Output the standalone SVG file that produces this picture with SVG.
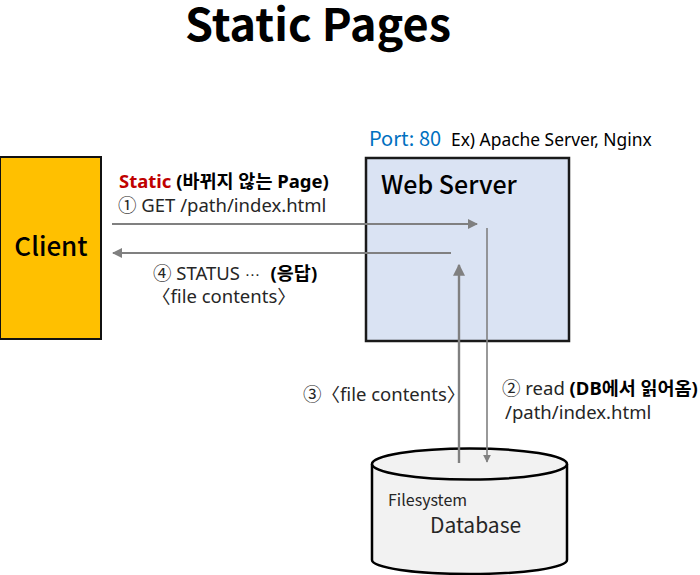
<svg xmlns="http://www.w3.org/2000/svg" width="700" height="575" viewBox="0 0 700 575">
<defs>
<style>
text{font-family:"Noto Sans CJK KR","Liberation Sans",sans-serif;fill:#000}
.t{font-size:45px;font-weight:700}
.lbl{font-family:"Noto Sans","Noto Sans CJK KR",sans-serif;font-size:18.5px;font-weight:400;fill:#262626}
.db{font-weight:400;fill:#262626}
.b{font-weight:700;fill:#000}
.dots{font-family:"DejaVu Sans",sans-serif;font-size:15px}
.conn{stroke:#808080;stroke-width:2;fill:none}
</style>
<marker id="ah" viewBox="0 0 10 10" refX="9" refY="5" markerWidth="5" markerHeight="5" orient="auto" markerUnits="strokeWidth">
<path d="M0,0 L10,5 L0,10 z" fill="#808080"/>
</marker>
</defs>
<rect width="700" height="575" fill="#fff"/>
<text class="t" x="318" y="41" text-anchor="middle">Static Pages</text>

<g id="client">
<rect x="0" y="157" width="101" height="182" fill="#FFC000" stroke="#111" stroke-width="2"/>
<text x="51" y="256" text-anchor="middle" font-size="26" font-weight="500">Client</text>
</g>

<g id="webserver">
<text x="369" y="146" font-size="20" style="fill:#0070C0">Port: 80</text>
<text x="451" y="146" class="lbl" style="font-size:17.4px;fill:#000">Ex) Apache Server, Nginx</text>
<rect x="366" y="158" width="203" height="183" fill="#DAE3F3" stroke="#1a1a1a" stroke-width="2.5"/>
<text x="381" y="194" font-size="25" font-weight="500">Web Server</text>
</g>

<g id="database">
<path d="M372,464 L372,560 A97.5,14 0 0 0 567,560 L567,464" fill="#F2F2F2" stroke="#000" stroke-width="2.5"/>
<ellipse cx="469.5" cy="464" rx="97.5" ry="15.5" fill="#F2F2F2" stroke="#000" stroke-width="2.5"/>
<text x="388" y="506" font-size="16" class="db">Filesystem</text>
<text x="430" y="533" font-size="21" class="db">Database</text>
</g>

<g id="connectors">
<line class="conn" x1="112" y1="224" x2="477" y2="224" marker-end="url(#ah)"/>
<line class="conn" x1="451" y1="253" x2="113" y2="253" marker-end="url(#ah)"/>
<line class="conn" x1="487" y1="228" x2="487" y2="462" marker-end="url(#ah)" style="stroke-width:1.6"/>
<line class="conn" x1="459" y1="463" x2="459" y2="265" marker-end="url(#ah)" style="stroke-width:2.4"/>
</g>

<g id="labels">
<text class="lbl" x="119" y="188"><tspan class="b" style="fill:#C00000">Static</tspan><tspan class="b"> (바뀌지 않는 Page)</tspan></text>
<text class="lbl" x="118" y="212">① GET /path/index.html</text>
<text class="lbl" x="153" y="280">④ STATUS <tspan class="dots">⋯</tspan> <tspan class="b" dx="6">(응답)</tspan></text>
<text class="lbl" x="152" y="303">〈file contents〉</text>
<text class="lbl" x="303" y="401">③〈file contents〉</text>
<text class="lbl" x="502" y="395">② read <tspan class="b">(DB에서 읽어옴)</tspan></text>
<text class="lbl" x="505" y="419">/path/index.html</text>
</g>
</svg>
